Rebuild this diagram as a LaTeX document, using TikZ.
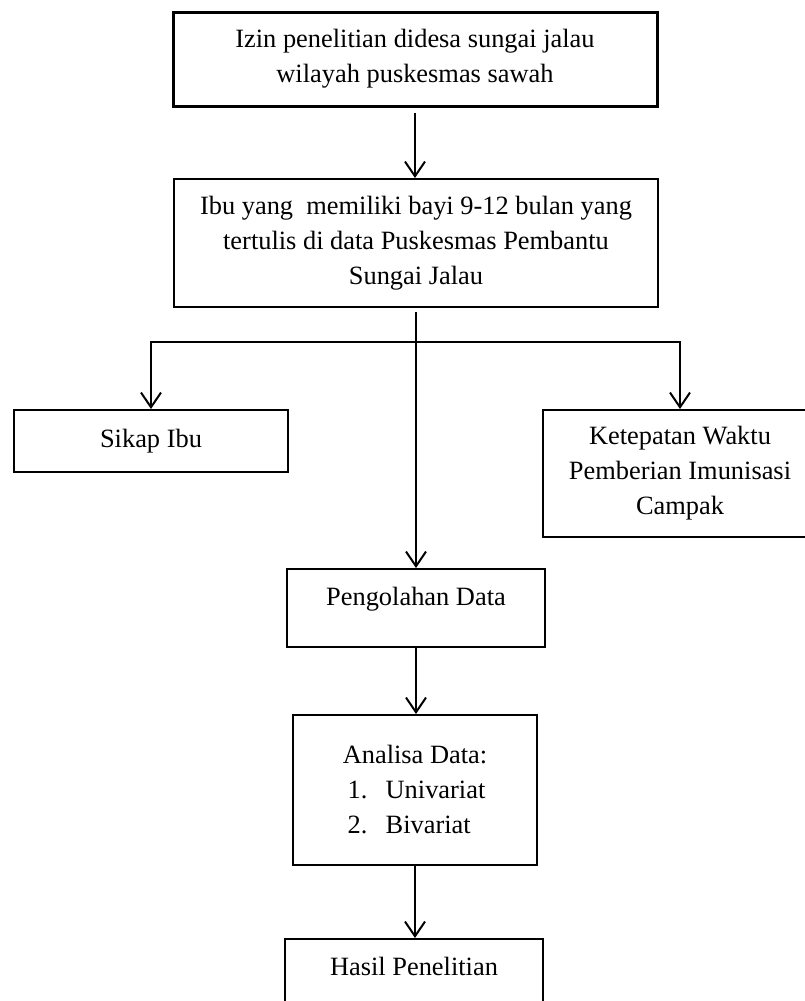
\documentclass[tikz,border=0pt]{standalone}
\usepackage{fontspec}
\setmainfont{Liberation Serif}
\usetikzlibrary{arrows.meta}

\begin{document}
\begin{tikzpicture}[x=0.75pt,y=-0.75pt,
    box/.style={draw,line width=1.5pt,align=center,inner sep=0pt,
        font=\fontsize{19.8pt}{26.25pt}\selectfont},
    arr/.style={line width=1.5pt,-{Straight Barb[length=11pt,width=15pt]}}]
    \clip (0,0) rectangle (805,1001);
    \node[box,line width=2.25pt,minimum width=363pt,minimum height=70.5pt] (izin) at (415,59)
        {Izin penelitian didesa sungai jalau\\wilayah puskesmas sawah};
    \node[box,minimum width=363pt,minimum height=96pt] (ibu) at (416,243)
        {Ibu yang~ memiliki bayi 9-12 bulan yang\\tertulis di data Puskesmas Pembantu\\Sungai Jalau};
    \node[box,minimum width=205.5pt,minimum height=46.5pt] (sikap) at (151,441) {Sikap Ibu};
    \node[box,minimum width=205.5pt,minimum height=95.25pt] (ket) at (680,473.5)
        {Ketepatan Waktu\\Pemberian Imunisasi\\Campak};
    \node[box,minimum width=193.5pt,minimum height=58.5pt,text height=14pt,text depth=18.5pt] (peng) at (416,608)
        {Pengolahan Data};
    \node[box,minimum width=183pt,minimum height=112.5pt] (ana) at (415,790)
        {Analisa Data:\\
        \makebox[101pt][l]{\makebox[28.5pt][l]{1.}Univariat}\\
        \makebox[101pt][l]{\makebox[28.5pt][l]{2.}Bivariat}};
    \node[box,minimum width=193.5pt,minimum height=58.5pt,text height=14pt,text depth=18.5pt] (hasil) at (414,978)
        {Hasil Penelitian};
    \coordinate (fork) at (415,342);
    \draw[arr,shorten <=4pt] (izin.south) -- (izin.south |- ibu.north);
    \draw[arr,shorten <=3pt] (ibu.south) -- (ibu.south |- peng.north);
    \draw[arr] (fork) -| (sikap.north);
    \draw[arr] (fork) -| (ket.north);
    \draw[arr] (peng.south) -- (peng.south |- ana.north);
    \draw[arr] (ana.south) -- (ana.south |- hasil.north);
\end{tikzpicture}
\end{document}
